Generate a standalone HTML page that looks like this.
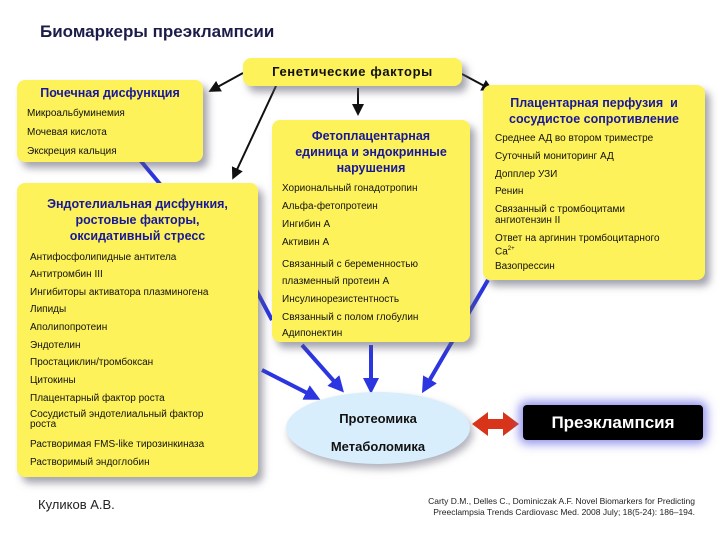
<!DOCTYPE html>
<html><head><meta charset="utf-8"><style>
body{margin:0;width:720px;height:540px;background:#fff;position:relative;overflow:hidden;font-family:"Liberation Sans",sans-serif}
.b{position:absolute;background:#fdf25a;border-radius:8px;box-shadow:5px 6px 8px rgba(90,90,110,.55)}
.t{position:absolute;font-size:10px;color:#111;white-space:nowrap;line-height:11px}
.h{position:absolute;font-size:12.5px;font-weight:bold;color:#18189a;text-align:center;line-height:16px}
</style></head><body>
<div style="position:absolute;left:40px;top:22px;font-size:17px;font-weight:bold;color:#1c1c4a">Биомаркеры преэклампсии</div>

<svg width="720" height="540" style="position:absolute;left:0;top:0">
<defs>
<marker id="k" markerWidth="6" markerHeight="6" refX="4" refY="3" orient="auto"><path d="M0,0L6,3L0,6z" fill="#111"/></marker>
<marker id="u" markerWidth="4" markerHeight="4" refX="2.5" refY="2" orient="auto"><path d="M0,0L4,2L0,4z" fill="#2b35e0"/></marker>
</defs>
<g stroke="#2b35e0" stroke-width="4" fill="none">
<line x1="140" y1="160" x2="165" y2="190"/>
<line x1="255" y1="288" x2="272" y2="320"/>
<line x1="262" y1="370" x2="315" y2="397" marker-end="url(#u)"/>
<line x1="302" y1="345" x2="340" y2="388" marker-end="url(#u)"/>
<line x1="371" y1="345" x2="371" y2="388" marker-end="url(#u)"/>
<line x1="488" y1="280" x2="425" y2="388" marker-end="url(#u)"/>
</g>
<g stroke="#111" stroke-width="2" fill="none">
<line x1="243" y1="73" x2="212" y2="90" marker-end="url(#k)"/>
<line x1="276" y1="86" x2="234" y2="176" marker-end="url(#k)"/>
<line x1="358" y1="88" x2="358" y2="112" marker-end="url(#k)"/>
<line x1="462" y1="74" x2="490" y2="89" marker-end="url(#k)"/>
</g>
<ellipse cx="378" cy="428" rx="92" ry="36" fill="#d9eefc" style="filter:drop-shadow(3px 5px 4px rgba(100,100,120,.5))"/>
<path d="M472,424L488,412L488,419L503,419L503,412L519,424L503,436L503,429L488,429L488,436z" fill="#d8341a"/>
</svg>

<div class="b" style="left:243px;top:58px;width:219px;height:28px"></div>
<div class="h" style="left:243px;top:64px;width:219px;color:#111;font-size:13px;letter-spacing:0.6px">Генетические факторы</div>

<div class="b" style="left:17px;top:80px;width:186px;height:82px"></div>
<div class="h" style="left:17px;top:85px;width:186px">Почечная дисфункция</div>
<div class="t" style="left:27px;top:108px">Микроальбуминемия</div>
<div class="t" style="left:27px;top:127px">Мочевая кислота</div>
<div class="t" style="left:27px;top:146px">Экскреция кальция</div>

<div class="b" style="left:272px;top:120px;width:198px;height:222px"></div>
<div class="h" style="left:272px;top:128px;width:198px">Фетоплацентарная<br>единица и эндокринные<br>нарушения</div>
<div class="t" style="left:282px;top:183px">Хориональный гонадотропин</div>
<div class="t" style="left:282px;top:201px">Альфа-фетопротеин</div>
<div class="t" style="left:282px;top:219px">Ингибин А</div>
<div class="t" style="left:282px;top:237px">Активин А</div>
<div class="t" style="left:282px;top:259px">Связанный с беременностью</div>
<div class="t" style="left:282px;top:276px">плазменный протеин А</div>
<div class="t" style="left:282px;top:294px">Инсулинорезистентность</div>
<div class="t" style="left:282px;top:312px">Связанный с полом глобулин</div>
<div class="t" style="left:282px;top:328px">Адипонектин</div>

<div class="b" style="left:483px;top:85px;width:222px;height:195px"></div>
<div class="h" style="left:483px;top:95px;width:222px">Плацентарная перфузия &nbsp;и<br>сосудистое сопротивление</div>
<div class="t" style="left:495px;top:133px">Среднее АД во втором триместре</div>
<div class="t" style="left:495px;top:151px">Суточный мониторинг АД</div>
<div class="t" style="left:495px;top:169px">Допплер УЗИ</div>
<div class="t" style="left:495px;top:186px">Ренин</div>
<div class="t" style="left:495px;top:204px">Связанный с тромбоцитами<br>ангиотензин II</div>
<div class="t" style="left:495px;top:233px">Ответ на аргинин тромбоцитарного<br>Ca<sup style="font-size:6px">2+</sup></div>
<div class="t" style="left:495px;top:261px">Вазопрессин</div>

<div class="b" style="left:17px;top:183px;width:241px;height:294px"></div>
<div class="h" style="left:17px;top:196px;width:241px">Эндотелиальная дисфункия,<br>ростовые факторы,<br>оксидативный стресс</div>
<div class="t" style="left:30px;top:252px">Антифосфолипидные антитела</div>
<div class="t" style="left:30px;top:269px">Антитромбин III</div>
<div class="t" style="left:30px;top:287px">Ингибиторы активатора плазминогена</div>
<div class="t" style="left:30px;top:304px">Липиды</div>
<div class="t" style="left:30px;top:322px">Аполипопротеин</div>
<div class="t" style="left:30px;top:340px">Эндотелин</div>
<div class="t" style="left:30px;top:357px">Простациклин/тромбоксан</div>
<div class="t" style="left:30px;top:375px">Цитокины</div>
<div class="t" style="left:30px;top:393px">Плацентарный фактор роста</div>
<div class="t" style="left:30px;top:410px;line-height:10px">Сосудистый эндотелиальный фактор<br>роста</div>
<div class="t" style="left:30px;top:439px">Растворимая FMS-like тирозинкиназа</div>
<div class="t" style="left:30px;top:457px">Растворимый эндоглобин</div>

<div style="position:absolute;left:286px;top:405px;width:184px;text-align:center;font-size:13px;font-weight:bold;color:#111;line-height:28px">Протеомика<br>Метаболомика</div>

<div style="position:absolute;left:523px;top:405px;width:180px;height:35px;background:#000;border-radius:4px;box-shadow:0 0 10px 4px rgba(110,110,230,.75);color:#fff;font-weight:bold;font-size:17px;text-align:center;line-height:35px">Преэклампсия</div>

<div style="position:absolute;left:38px;top:497px;font-size:13px;color:#222">Куликов А.В.</div>
<div style="position:absolute;right:25px;top:496px;font-size:8.5px;color:#222;text-align:right;line-height:11px">Carty D.M., Delles C., Dominiczak A.F. Novel Biomarkers for Predicting<br>Preeclampsia Trends Cardiovasc Med. 2008 July; 18(5-24): 186–194.</div>
</body></html>
